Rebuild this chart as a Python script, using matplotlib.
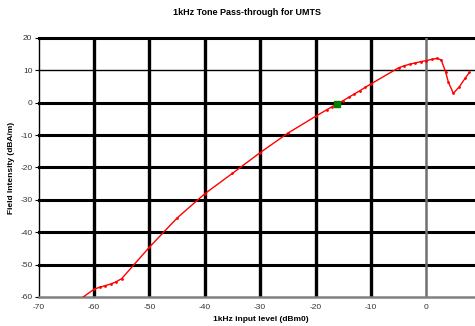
import matplotlib
matplotlib.use('Agg')
import matplotlib.pyplot as plt

# Data
input_level = [-62.7, -60, -59, -58, -57, -56, -55, -50, -45, -40, -35, -30, -25,
               -20, -18, -17, -15, -14, -13, -12, -11, -10,
               -5, -4, -3, -2, -1, 0, 1, 2, 2.7, 3.5, 4, 4.9, 6, 7, 7.8]
field_intensity = [-60.9, -57.6, -57.0, -56.5, -56.0, -55.3, -54.3, -44.6, -35.6, -28.1, -21.8, -15.4, -9.4,
                   -4.2, -2.2, -1.2, 0.65, 1.7, 2.7, 3.7, 4.8, 5.8,
                   10.8, 11.4, 11.9, 12.3, 12.7, 13.0, 13.4, 13.7, 13.2, 9.5, 6.3, 2.9, 5.0, 7.5, 9.4]
ref_point_x = [-16.1]
ref_point_y = [-0.4]

x_ticks = list(range(-70, 1, 10))
y_ticks = list(range(-60, 21, 10))

plt.rcParams['font.family'] = ['Liberation Sans', 'DejaVu Sans']
plt.rcParams['axes.unicode_minus'] = False

fig = plt.figure(figsize=(4.75, 3.26), dpi=100)
ax = fig.add_axes([0.0815, 0.089, 0.9185, 0.7945])

ax.set_xlim(-70, 8.8)
ax.set_ylim(-60, 20)

# Grid lines (drawn by hand to copy the mixed weights of the original)
for y in y_ticks[1:]:
    lw = 1.0 if y == 10 else 2.2
    ax.axhline(y, color='black', lw=lw, zorder=1, clip_on=False)
for x in x_ticks[1:]:
    if x == 0:
        ax.axvline(x, color='#707070', lw=1.8, zorder=1)
    else:
        ax.axvline(x, color='black', lw=2.4, zorder=1)

ax.plot(input_level, field_intensity, color='red', lw=1.0, marker='o',
        markersize=2.0, markeredgewidth=0, zorder=3)
ax.plot(ref_point_x, ref_point_y, color='green', marker='s', markersize=5,
        linestyle='none', zorder=4)

ax.spines['right'].set_visible(False)
ax.spines['top'].set_visible(False)
ax.spines['left'].set_linewidth(1.0)
ax.spines['bottom'].set_color('#808080')
ax.spines['bottom'].set_linewidth(1.8)

ax.set_xticks(x_ticks)
ax.set_yticks(y_ticks)
ax.tick_params(axis='y', length=3, width=0.8, labelsize=6, pad=1.5, colors='black', labelcolor='#333333')
ax.tick_params(axis='x', length=0, labelsize=6, pad=5, labelcolor='#333333')

ax.set_xlabel('1kHz input level (dBm0)', fontsize=6, fontweight='bold')
ax.xaxis.set_label_coords(0.51, -0.075)
ax.set_ylabel('Field Intensity (dBA/m)', fontsize=6, fontweight='bold')
ax.yaxis.set_label_coords(-0.055, 0.5)

fig.text(0.52, 0.962, '1kHz Tone Pass-through for UMTS', ha='center', va='center',
         fontsize=6.5, fontweight='bold')

fig.savefig('out.png', dpi=100)
